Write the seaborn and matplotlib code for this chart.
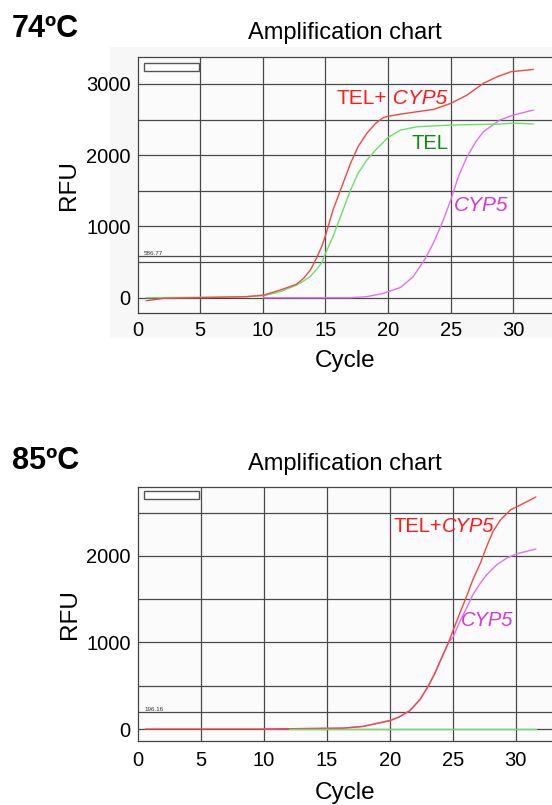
import matplotlib
matplotlib.use("Agg")
import matplotlib.pyplot as plt
from matplotlib.patches import Rectangle
from matplotlib.ticker import MultipleLocator
import seaborn as sns
import pandas as pd

# 74ºC panel
top_red_cycle = [0.7, 2.1, 4.7, 8.7, 10.1, 11.4, 12.7, 13.3, 13.8, 14.3, 14.7, 15.0, 15.6, 16.3, 17.0, 17.6,
                 18.3, 19.0, 19.6, 20.0, 21.0, 22.3, 23.6, 25.0, 26.3, 27.6, 28.7, 29.8, 31.6]
top_red_rfu = [-42, -8, 0, 14, 38, 108, 190, 280, 390, 560, 720, 870, 1230, 1557, 1885, 2118,
               2306, 2446, 2525, 2545, 2576, 2609, 2641, 2726, 2843, 3007, 3100, 3170, 3203]
top_green_cycle = [0.7, 4.0, 8.0, 10.1, 11.4, 12.7, 13.3, 13.8, 14.3, 14.7, 15.0, 15.6, 16.3, 17.0, 17.6,
                   18.3, 19.0, 20.0, 21.0, 22.3, 25.0, 29.0, 30.0, 31.6]
top_green_rfu = [0, 5, 12, 28, 85, 178, 240, 300, 400, 490, 622, 856, 1183, 1510, 1744,
                 1931, 2071, 2250, 2352, 2398, 2422, 2437, 2450, 2437]
top_mag_cycle = [10.0, 17.0, 18.3, 19.6, 21.0, 22.0, 22.9, 23.6, 24.3, 25.0, 25.6, 26.3, 27.0, 27.6,
                 28.9, 30.0, 31.6]
top_mag_rfu = [0, 0, 15, 60, 145, 295, 529, 762, 1043, 1370, 1697, 1978, 2188, 2328,
               2492, 2562, 2633]

# 85ºC panel
bot_red_cycle = [0.6, 10.0, 16.3, 17.9, 18.9, 20.0, 20.75, 21.6, 22.4, 23.05, 23.6, 24.0, 24.65, 25.05,
                 25.57, 26.1, 26.6, 27.2, 27.7, 28.2, 28.8, 29.6, 30.4, 31.6]
bot_red_rfu = [0, 0, 10, 30, 62, 97, 140, 212, 340, 493, 648, 782, 994, 1148,
               1340, 1532, 1725, 1918, 2110, 2283, 2418, 2533, 2591, 2680]
bot_mag_cycle = [10.0, 16.3, 17.9, 18.9, 20.0, 20.75, 21.6, 22.4, 23.05, 23.6, 24.0, 24.65, 25.05,
                 25.57, 26.1, 26.6, 27.2, 27.7, 28.5, 29.3, 30.1, 31.6]
bot_mag_rfu = [0, 10, 30, 62, 97, 140, 212, 340, 493, 648, 782, 994, 1070,
               1244, 1398, 1552, 1687, 1783, 1898, 1976, 2025, 2080]
bot_green_cycle = [12.0, 31.6]
bot_green_rfu = [0, 0]

top_threshold = 586.77
bot_threshold = 196.16

RED = "#f04848"
GREEN = "#6be06b"
MAGENTA = "#e46ef0"

sns.set_style("white")
plt.rcParams["font.family"] = ["Liberation Sans", "DejaVu Sans"]
plt.rcParams["text.color"] = "black"
plt.rcParams["axes.labelcolor"] = "black"
plt.rcParams["xtick.color"] = "black"
plt.rcParams["ytick.color"] = "black"

fig = plt.figure(figsize=(5.52, 8.05), dpi=100)

# faint screenshot background behind the upper chart
fig.patches.append(Rectangle((110 / 552, 1 - 338 / 805), 442 / 552, 291 / 805,
                             transform=fig.transFigure, facecolor="#f7f7f7", edgecolor="none", zorder=-5))

ax1 = fig.add_axes([137.5 / 552, 1 - 312.7 / 805, 1 - 137.5 / 552, (312.7 - 57.5) / 805])
ax2 = fig.add_axes([137.7 / 552, 1 - 740.7 / 805, 1 - 137.7 / 552, (740.7 - 486.5) / 805])


def style_axes(ax, xmax, ylim, yticks, threshold, xpad, labelpad):
    ax.set_facecolor("#fbfbfb")
    ax.set_xlim(0, xmax)
    ax.set_ylim(*ylim)
    ax.set_xticks([0, 5, 10, 15, 20, 25, 30])
    ax.set_yticks(yticks)
    ax.xaxis.set_minor_locator(MultipleLocator(1))
    ax.yaxis.set_minor_locator(MultipleLocator(100))
    ax.tick_params(axis="both", which="major", labelsize=14.5, length=3, width=0.8, color="#444", pad=2)
    ax.tick_params(axis="x", which="major", pad=xpad)
    ax.tick_params(axis="x", which="minor", direction="in", length=3, width=0.8, color="#444")
    ax.tick_params(axis="y", which="minor", direction="inout", length=4, width=0.8, color="#444")
    for v in range(0, 3001, 500):
        ax.axhline(v, color="#4a4a4a", lw=0.9, zorder=1)
    for c in range(5, 35, 5):
        ax.axvline(c, color="#4a4a4a", lw=0.9, zorder=1)
    ax.axhline(threshold, color="#4a4a4a", lw=0.9, zorder=1)
    ax.text(0.5, threshold, f"{threshold:.2f}", fontsize=4.5, color="#333", va="bottom", ha="left")
    for side in ["left", "bottom", "top"]:
        ax.spines[side].set_color("#444")
        ax.spines[side].set_linewidth(0.9)
    ax.spines["right"].set_visible(False)
    ax.set_xlabel("Cycle", fontsize=17.5, labelpad=labelpad)
    ax.set_ylabel("RFU", fontsize=17.5, labelpad=4)


def draw(ax, cycles, rfu, color):
    df = pd.DataFrame({"Cycle": cycles, "RFU": rfu})
    sns.lineplot(data=df, x="Cycle", y="RFU", color=color, lw=1.0, ax=ax, sort=False, estimator=None, zorder=3)


# 74ºC
style_axes(ax1, 33.08, (-210, 3370), [0, 1000, 2000, 3000], top_threshold, 3, 7)
draw(ax1, top_mag_cycle, top_mag_rfu, MAGENTA)
draw(ax1, top_green_cycle, top_green_rfu, GREEN)
draw(ax1, top_red_cycle, top_red_rfu, RED)
ax1.add_patch(Rectangle((0.5, 3175), 4.4, 112, facecolor="white", edgecolor="#555", lw=1, zorder=4))
t = ax1.text(15.9, 2795, "TEL+", color="#ff1a1a", fontsize=15, va="center", ha="left", zorder=5)
ax1.annotate(" CYP5", xy=(1, 0), xycoords=t, va="bottom", ha="left", color="#ff1a1a",
             fontsize=15, style="italic", zorder=5)
ax1.text(23.3, 2170, "TEL", color="#118a11", fontsize=14.5, va="center", ha="center", zorder=5)
ax1.text(27.4, 1300, "CYP5", color="#d43ad4", fontsize=15, style="italic", va="center", ha="center", zorder=5)

# 85ºC
style_axes(ax2, 32.88, (-135, 2802), [0, 1000, 2000], bot_threshold, 4.5, 8.5)
draw(ax2, bot_mag_cycle, bot_mag_rfu, MAGENTA)
draw(ax2, bot_red_cycle, bot_red_rfu, RED)
draw(ax2, bot_green_cycle, bot_green_rfu, GREEN)
ax2.add_patch(Rectangle((0.5, 2657), 4.4, 96, facecolor="white", edgecolor="#555", lw=1, zorder=4))
t = ax2.text(20.3, 2343, "TEL+", color="#ff1a1a", fontsize=14.5, va="center", ha="left", zorder=5)
ax2.annotate("CYP5", xy=(1, 0), xycoords=t, va="bottom", ha="left", color="#ff1a1a",
             fontsize=14.5, style="italic", zorder=5)
ax2.text(27.7, 1252, "CYP5", color="#d43ad4", fontsize=14.5, style="italic", va="center", ha="center", zorder=5)

# panel titles
fig.text(345 / 552, 1 - 33 / 805, "Amplification chart", fontsize=17, ha="center", va="center")
fig.text(345 / 552, 1 - 464 / 805, "Amplification chart", fontsize=17, ha="center", va="center")
fig.text(12 / 552, 1 - 29 / 805, "74ºC", fontsize=22, fontweight="bold", ha="left", va="center")
fig.text(12 / 552, 1 - 461 / 805, "85ºC", fontsize=22, fontweight="bold", ha="left", va="center")

fig.savefig("out.png", dpi=100)
